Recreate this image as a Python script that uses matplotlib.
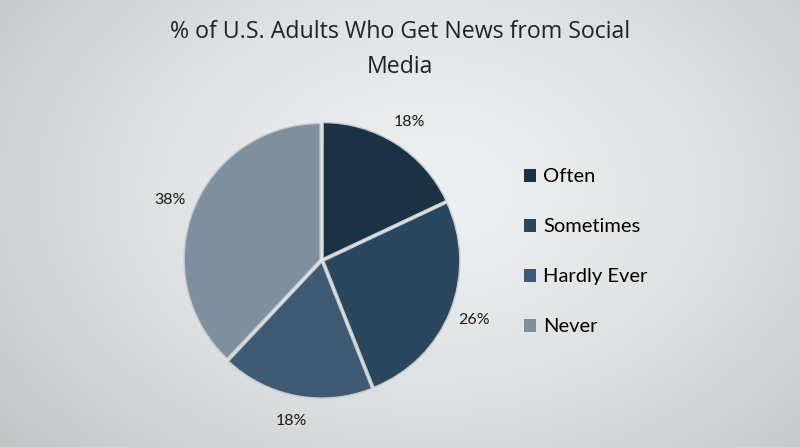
import numpy as np
import matplotlib.pyplot as plt
from matplotlib.patches import Patch

categories = ['Often', 'Sometimes', 'Hardly Ever', 'Never']
shares = [18, 26, 18, 38]
colors = ['#1b3245', '#2a475e', '#3d5a72', '#7e8f9d']
title = '% of U.S. Adults Who Get News from Social\nMedia'

fig = plt.figure(figsize=(8, 4.47), dpi=100)

# soft radial backdrop
bg = fig.add_axes([0, 0, 1, 1])
yy, xx = np.mgrid[0:447, 0:800]
dist = np.sqrt(((xx - 430) / 560.0) ** 2 + ((yy - 190) / 400.0) ** 2)
shade = np.clip(0.94 - 0.17 * dist ** 1.6, 0, 1)
rgb = np.dstack([shade * 0.985, shade * 0.995, shade * 1.0])
bg.imshow(rgb, aspect='auto', extent=[0, 1, 0, 1])
bg.axis('off')

ax = fig.add_axes([0.4025 - 0.17, 0.418 - 0.304, 0.34, 0.608])
wedges, texts, pcts = ax.pie(
    shares, colors=colors, startangle=90, counterclock=False,
    explode=[0.015] * 4, autopct='%d%%', pctdistance=1.19,
    wedgeprops=dict(linewidth=1.0, edgecolor='#c3c9ce'),
    textprops=dict(fontsize=11.5, color='#1a1a1a', family='Lato'))
ax.set_xlim(-1.0, 1.0)
ax.set_ylim(-1.0, 1.0)
ax.set_aspect('equal')

fig.text(0.5, 0.955, title, ha='center', va='top', fontsize=16.7,
         color='#1a242c', family='Open Sans', linespacing=1.6)

handles = [Patch(facecolor=c, edgecolor='none') for c in colors]
fig.legend(handles, categories, loc='center left',
           bbox_to_anchor=(0.632, 0.437), frameon=False,
           labelspacing=1.64, handlelength=0.62,
           handleheight=0.62, handletextpad=0.35,
           prop=dict(family='Lato', size=14.5))

fig.savefig('out.png', dpi=100)
